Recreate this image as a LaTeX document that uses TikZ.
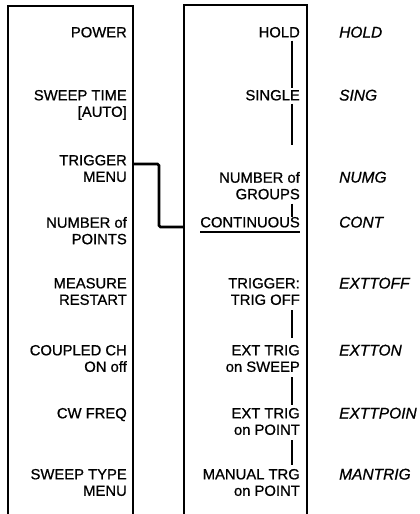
\documentclass[tikz,border=0pt]{standalone}
\usepackage{fontspec}
\setmainfont[FakeBold=0.8]{Liberation Sans}
\begin{document}
\begin{tikzpicture}[x=1pt,y=-1pt,
  lbl/.style={anchor=north east, align=right, inner sep=0pt, font=\fontsize{14.8}{16.5}\selectfont},
  mn/.style={anchor=north west, inner sep=0pt, font=\fontsize{15.5}{16.5}\selectfont\itshape},
  boxline/.style={line width=2pt},
  lnk/.style={line width=1.3pt},
  conn/.style={line width=2.6pt, rounded corners=1.5pt}]
\useasboundingbox (0,0) rectangle (420,514);
% boxes (open at bottom)
\coordinate (lbBL) at (8,514);
\coordinate (lbTL) at (8,6);
\coordinate (lbTR) at (133,6);
\coordinate (lbBR) at (133,514);
\coordinate (rbBL) at (184,514);
\coordinate (rbTL) at (184,5);
\coordinate (rbTR) at (307,5);
\coordinate (rbBR) at (307,514);
\draw[boxline] (lbBL) -- (lbTL) -- (lbTR) -- (lbBR);
\draw[boxline] (rbBL) -- (rbTL) -- (rbTR) -- (rbBR);
% left labels
\node[lbl] (power) at (127,26.8) {POWER};
\node[lbl] (swtime) at (127,89.8) {SWEEP TIME\\{}[AUTO]};
\node[lbl] (trigmenu) at (127,154.8) {TRIGGER\\MENU};
\node[lbl] (numpts) at (127,216.8) {NUMBER of\\POINTS};
\node[lbl] (measure) at (127,277.8) {MEASURE\\RESTART};
\node[lbl] (coupled) at (127,344.8) {COUPLED CH\\ON off};
\node[lbl] (cwfreq) at (127,407.8) {CW FREQ};
\node[lbl] (swtype) at (127,468.8) {SWEEP TYPE\\MENU};
% right labels
\node[lbl] (hold) at (300,26.8) {HOLD};
\node[lbl] (single) at (300,89.8) {SINGLE};
\node[lbl] (numg) at (300,171.8) {NUMBER of\\GROUPS};
\node[lbl] (cont) at (300,216.8) {CONTINUOUS};
\node[lbl] (trgoff) at (300,277.8) {TRIGGER:\\TRIG OFF};
\node[lbl] (extsw) at (300,344.8) {EXT TRIG\\on SWEEP};
\node[lbl] (extpt) at (300,407.8) {EXT TRIG\\on POINT};
\node[lbl] (mantrg) at (300,468.8) {MANUAL TRG\\on POINT};
% mnemonics
\node[mn] (mhold) at (339,26.5) {HOLD};
\node[mn] (msing) at (339,89.5) {SING};
\node[mn] (mnumg) at (339,171.5) {NUMG};
\node[mn] (mcont) at (339,216.5) {CONT};
\node[mn] (mexttoff) at (339,277.5) {EXTTOFF};
\node[mn] (mextton) at (339,344.5) {EXTTON};
\node[mn] (mexttpoin) at (339,407.5) {EXTTPOIN};
\node[mn] (mmantrig) at (339,468.5) {MANTRIG};
% underline of CONTINUOUS
\coordinate (ulL) at (200,232);
\coordinate (ulR) at (300,232);
\draw[lnk] (ulL) -- (ulR);
% vertical links
\coordinate (vx) at (292,0);
\draw[lnk, shorten <=3pt, shorten >=2pt] (vx |- hold.south) -- (vx |- single.north);
\draw[lnk, shorten <=3pt, shorten >=27pt] (vx |- single.south) -- (vx |- numg.north);
\draw[lnk, shorten <=4pt, shorten >=0pt] (vx |- numg.south) -- (vx |- cont.north);
\draw[lnk, shorten <=5pt, shorten >=7pt] (vx |- trgoff.south) -- (vx |- extsw.north);
\draw[lnk, shorten <=5pt, shorten >=3pt] (vx |- extsw.south) -- (vx |- extpt.north);
\draw[lnk, shorten <=5pt, shorten >=4pt] (vx |- extpt.south) -- (vx |- mantrg.north);
% connector TRIGGER MENU -> CONTINUOUS
\coordinate (cA) at (133,164);
\coordinate (cB) at (184,227);
\draw[conn] (cA) -- (159,164) |- (cB);
\end{tikzpicture}
\end{document}
